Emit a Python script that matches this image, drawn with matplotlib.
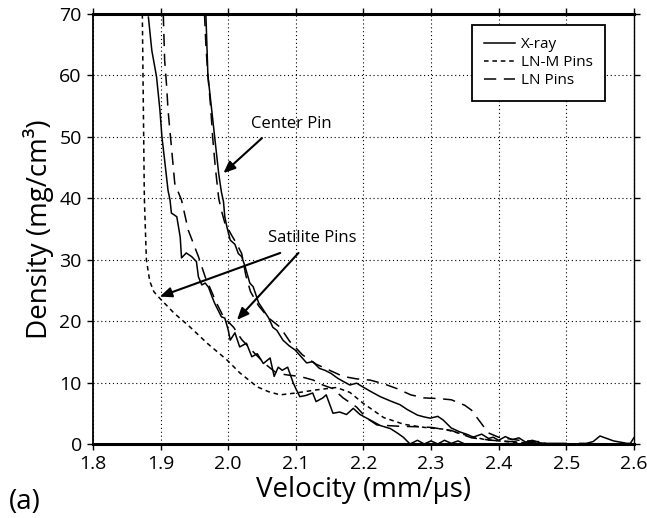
import numpy as np
import matplotlib
matplotlib.use('Agg')
import matplotlib.pyplot as plt

plt.rcParams['font.family'] = ['Open Sans', 'DejaVu Sans']

# X-ray, center pin
xray_c_v = [1.967, 1.970, 1.975, 1.980, 1.986, 1.990, 1.993, 1.995, 1.998, 2.003,
            2.010, 2.015, 2.020, 2.025, 2.032, 2.037, 2.045, 2.054, 2.060, 2.066,
            2.072, 2.081, 2.090, 2.099, 2.108, 2.116, 2.125, 2.135, 2.143, 2.152,
            2.162, 2.170, 2.180, 2.190, 2.199, 2.210, 2.225, 2.240, 2.254, 2.265,
            2.280, 2.290, 2.299, 2.310, 2.318, 2.330, 2.343, 2.355, 2.362, 2.375,
            2.385, 2.392, 2.400, 2.410, 2.420, 2.430, 2.440, 2.450, 2.460, 2.470,
            2.500, np.nan, 2.520, 2.530, 2.540, 2.550, 2.560, 2.570, 2.580, 2.590,
            2.595, 2.600]
xray_c_d = [70, 60, 55, 50, 44, 41, 39.5, 37, 35.4, 33.2,
            32.5, 31.0, 30.5, 28.9, 26.2, 25.6, 23.0, 21.5, 20.5, 19.0,
            18.5, 16.9, 16.0, 15.3, 14.2, 13.2, 13.4, 12.3, 12.0, 11.5,
            10.7, 10.2, 9.6, 9.9, 9.3, 8.6, 7.7, 7.0, 6.4, 5.6,
            4.7, 4.4, 4.2, 4.5, 3.9, 2.6, 1.95, 1.5, 1.1, 1.6,
            0.9, 1.1, 0.6, 1.2, 0.7, 1.0, 0.3, 0.6, 0.2, 0.1,
            0.1, np.nan, 0.1, 0.1, 0.4, 1.3, 0.9, 0.5, 0.3, 0.1,
            0.1, 1.0]

# X-ray, satellite pins
xray_s_v = [1.882, 1.887, 1.894, 1.899, 1.902, 1.906, 1.911, 1.914, 1.916, 1.924,
            1.929, 1.931, 1.938, 1.946, 1.953, 1.956, 1.961, 1.966, 1.971, 1.976,
            1.980, 1.985, 1.990, 1.995, 2.000, 2.003, 2.010, 2.017, 2.027, 2.035,
            2.043, 2.052, 2.062, 2.068, 2.074, 2.080, 2.088, 2.096, 2.101, 2.106,
            2.115, 2.125, 2.130, 2.140, 2.145, 2.155, 2.165, 2.175, 2.185, 2.195,
            2.205, 2.215, 2.225, 2.240, 2.250, 2.259, 2.269, 2.280, 2.290, 2.300,
            2.310, 2.320, 2.330, 2.340, 2.350]
xray_s_d = [69.5, 64.1, 59.8, 54.4, 50, 46.2, 41.3, 39.7, 37.6, 37.0,
            33.7, 30.3, 31.1, 30.5, 29.7, 27.2, 25.9, 26.2, 25.5, 24.0,
            22.9, 21.8, 20.7, 20.5, 18.6, 16.9, 18.1, 15.8, 16.4, 14.2,
            14.7, 13.1, 14.0, 11.0, 12.5, 12.0, 12.5, 10.0, 8.8, 7.7,
            7.9, 8.3, 6.9, 7.5, 8.0, 5.0, 5.2, 4.8, 5.8, 4.8,
            4.2, 3.6, 3.0, 2.5, 1.8, 1.1, 0.0, 0.6, 0.0, 0.5,
            0.0, 0.6, 0.1, 0.5, 0.0]

# LN-M pins
lnm_v = [1.873, 1.874, 1.875, 1.876, 1.879, 1.884, 1.890, 1.899, 1.920, 1.943,
         1.970, 1.998, 2.017, 2.043, 2.060, 2.077, 2.100, 2.130, 2.160, 2.180,
         2.200, 2.230, 2.260, 2.290, 2.320, 2.350, 2.380, 2.420, 2.460]
lnm_d = [70, 60, 50, 40, 30, 26.5, 24.8, 23.7, 21.3, 19.1,
         16.3, 13.7, 11.6, 9.3, 8.5, 8.0, 8.3, 8.8, 9.2, 8.4,
         6.6, 4.3, 3.2, 2.7, 2.4, 1.5, 0.7, 0.3, 0.1]

# LN pins, center
ln_c_v = [1.965, 1.967, 1.970, 1.974, 1.977, 1.981, 1.986, 1.990, 1.995, 2.005,
          2.012, 2.020, 2.026, 2.033, 2.045, 2.060, 2.077, 2.091, 2.110, 2.130,
          2.150, 2.170, 2.190, 2.210, 2.230, 2.250, 2.270, 2.290, 2.310, 2.330,
          2.350, 2.360, 2.370, 2.385, 2.400, 2.430, 2.470]
ln_c_d = [70, 65, 60, 55, 50, 45, 40, 38, 36, 34,
          32.7, 31.0, 27.5, 24.8, 22.5, 20.5, 19.0, 16.7, 14.5, 13,
          12, 11, 10.6, 10.4, 9.8, 9.0, 8.0, 7.5, 7.4, 7.2,
          6.3, 5.5, 4.0, 1.8, 1.1, 0.6, 0.3]

# LN pins, satellite
ln_s_v = [1.904, 1.906, 1.909, 1.911, 1.916, 1.921, 1.931, 1.941, 1.956, 1.966,
          1.983, 1.993, 2.008, 2.020, 2.037, 2.055, 2.072, 2.090, 2.106, 2.126,
          2.140, 2.155, 2.170, 2.190, 2.205, 2.220, 2.250, 2.280, 2.300, 2.330,
          2.360, 2.390, 2.430, 2.470]
ln_s_d = [70, 62.5, 58.2, 54.4, 48.4, 42.4, 39.7, 34.8, 30.5, 27.2,
          22.9, 20.7, 19.0, 17.0, 15.0, 13.0, 11.5, 11.2, 11.0, 10.4,
          9.6, 9.0, 7.5, 6.0, 4.2, 3.1, 2.9, 2.8, 2.7, 2.2,
          1.0, 0.6, 0.3, 0.1]

x_ticks = [1.8, 1.9, 2.0, 2.1, 2.2, 2.3, 2.4, 2.5, 2.6]
y_ticks = [0, 10, 20, 30, 40, 50, 60, 70]

fig = plt.figure(figsize=(6.47, 5.18), dpi=100)
ax = fig.add_axes([0.1437, 0.1429, 0.8359, 0.830])

lw = 1.1
short = (3, 2.5)
long_ = (8, 5)
ax.plot(xray_c_v, xray_c_d, color='black', lw=lw, label='X-ray')
ax.plot(xray_s_v, xray_s_d, color='black', lw=lw)
ax.plot(lnm_v, lnm_d, color='black', lw=lw, dashes=short, label='LN-M Pins')
ax.plot(ln_c_v, ln_c_d, color='black', lw=lw, dashes=long_, label='LN Pins')
ax.plot(ln_s_v, ln_s_d, color='black', lw=lw, dashes=long_)

ax.set_xlim(1.8, 2.6)
ax.set_ylim(0, 70)
ax.set_xticks(x_ticks)
ax.set_xticklabels(['%.1f' % t for t in x_ticks])
ax.set_yticks(y_ticks)
ax.grid(True, color='black', linestyle=(0, (1, 2.5)), linewidth=0.8)
ax.tick_params(direction='out', length=4, width=1, top=True, right=True,
               labelsize=14, pad=4)
for s in ['top', 'bottom']:
    ax.spines[s].set_linewidth(2.2)
ax.spines['left'].set_linewidth(1.3)
ax.spines['right'].set_linewidth(1.0)

ax.set_xlabel('Velocity (mm/µs)', fontsize=20, labelpad=2)
ax.set_ylabel('Density (mg/cm³)', fontsize=20, labelpad=4)
fig.text(0.014, 0.018, '(a)', fontsize=20)

arw = dict(arrowstyle='-|>,head_length=0.7,head_width=0.3', color='black',
           lw=1.5, shrinkA=0, shrinkB=0)
ax.text(2.094, 52.1, 'Center Pin', fontsize=12, ha='center', va='center')
ax.annotate('', xy=(1.993, 44.1), xytext=(2.05, 49.8), arrowprops=arw)
ax.text(2.124, 33.6, 'Satilite Pins', fontsize=12, ha='center', va='center')
ax.annotate('', xy=(1.899, 24.0), xytext=(2.077, 31.1), arrowprops=arw)
ax.annotate('', xy=(2.013, 20.2), xytext=(2.104, 31.1), arrowprops=arw)

leg = ax.legend(loc='upper right', bbox_to_anchor=(605 / 647, 1 - 25 / 518),
                bbox_transform=fig.transFigure, borderaxespad=0, fontsize=11,
                handlelength=2.0, handletextpad=0.4, fancybox=False,
                framealpha=1, edgecolor='black', borderpad=0.8,
                labelspacing=0.2)
leg.get_frame().set_linewidth(1.3)

fig.savefig('out.png', dpi=100)
